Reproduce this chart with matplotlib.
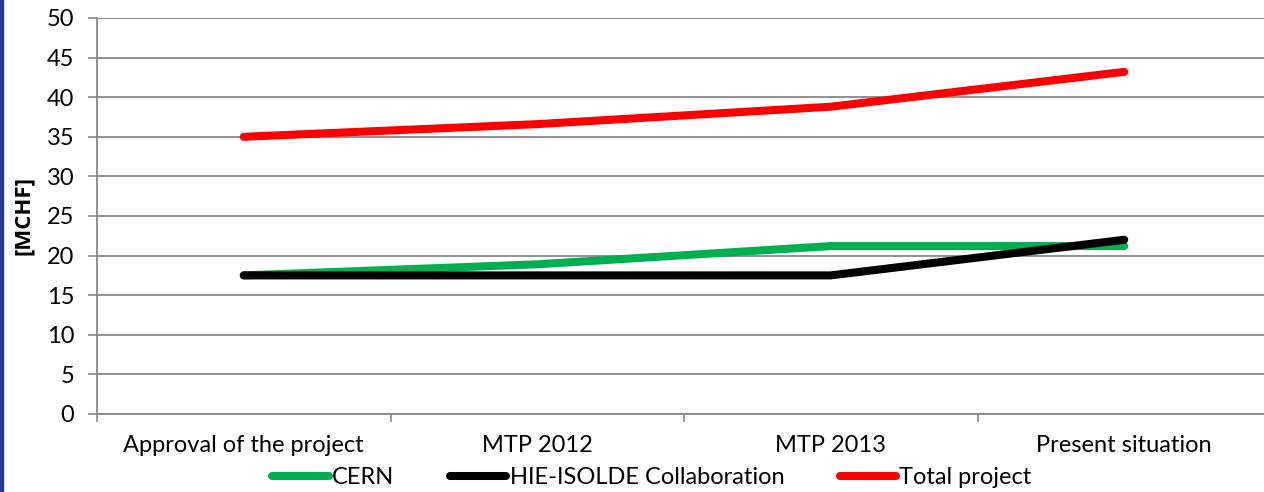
import numpy as np
import matplotlib.pyplot as plt
from matplotlib.patches import Rectangle

categories = ['Approval of the project', 'MTP 2012', 'MTP 2013', 'Present situation']
cern = [17.5, 18.9, 21.2, 21.2]
collab = [17.5, 17.5, 17.5, 22.0]
total = [35.0, 36.6, 38.8, 43.2]

plt.rcParams['font.family'] = ['Lato', 'DejaVu Sans']
fs = 17

fig = plt.figure(figsize=(12.64, 4.92), dpi=100)
ax = fig.add_axes([97/1264, 1-414/492, 1174/1264, 396/492])

x = np.arange(len(categories))
ax.plot(x, cern, color='#00B050', lw=5.8, solid_capstyle='round', label='CERN', zorder=3)
ax.plot(x, collab, color='black', lw=5.8, solid_capstyle='round', label='HIE-ISOLDE Collaboration', zorder=4)
ax.plot(x, total, color='#FF0000', lw=5.8, solid_capstyle='round', label='Total project', zorder=3)

ax.set_xlim(-0.5, 3.5)
ax.set_ylim(0, 50)
ax.set_yticks(np.arange(0, 51, 5))
ax.set_xticks(x)
ax.set_xticklabels(categories)
ax.set_xticks(np.arange(-0.5, 3.6, 1), minor=True)
ax.tick_params(axis='x', which='major', length=0, pad=15, labelsize=fs)
ax.tick_params(axis='x', which='minor', length=6, width=1.2, color='#888888')
ax.tick_params(axis='y', length=6.5, width=1.2, color='#888888', pad=10, labelsize=fs)
ax.yaxis.grid(True, color='#888888', lw=1.3)
ax.set_axisbelow(True)
for s in ['top', 'right']:
    ax.spines[s].set_visible(False)
for s in ['left', 'bottom']:
    ax.spines[s].set_color('#888888')
    ax.spines[s].set_linewidth(1.3)
ax.set_ylabel('[MCHF]', fontsize=16, fontweight='bold', family=['Open Sans', 'DejaVu Sans'],
              labelpad=9)

leg = fig.legend(loc='center', bbox_to_anchor=(652/1264, 1-478/492), ncol=3, frameon=False,
                 fontsize=fs, handlelength=2.4, handletextpad=0.13, columnspacing=2.35,
                 borderpad=0, borderaxespad=0)

# dark blue frame edge on the left
fig.patches.append(Rectangle((0, 0), 3/1264, 1, transform=fig.transFigure,
                             color='#283593', zorder=10))

fig.savefig('out.png', dpi=100)
